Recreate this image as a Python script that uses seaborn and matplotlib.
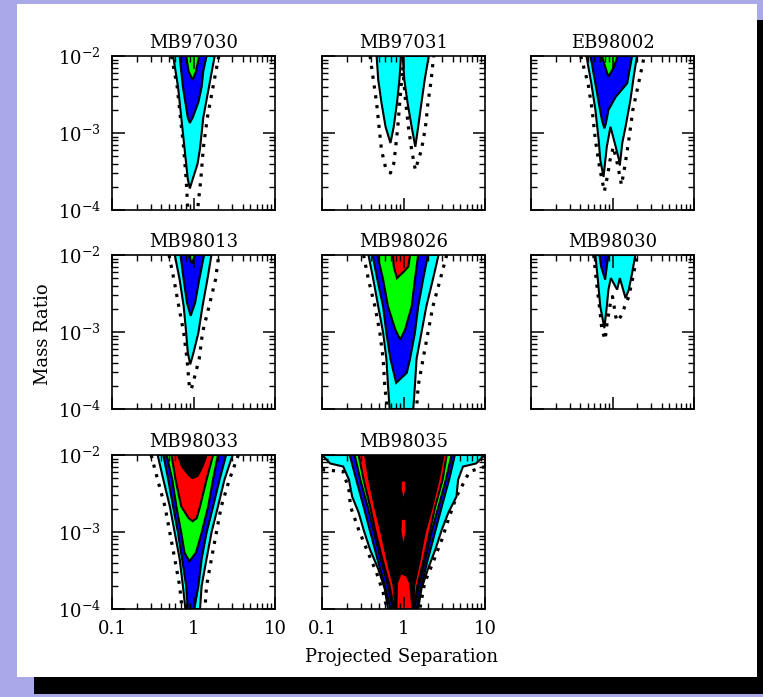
import numpy as np
import matplotlib
matplotlib.use("Agg")
import matplotlib.pyplot as plt
import seaborn as sns
from matplotlib.patches import Rectangle
from matplotlib.ticker import FixedLocator, FixedFormatter, LogLocator, NullFormatter

# ---------------------------------------------------------------- data
panel_names = ["MB97030", "MB97031", "EB98002", "MB98013",
               "MB98026", "MB98030", "MB98033", "MB98035"]
x_ticks = [0.1, 1, 10]
x_ticklabels = ["0.1", "1", "10"]
y_ticks = [1e-4, 1e-3, 1e-2]
y_ticklabels = [r"$10^{-4}$", r"$10^{-3}$", r"$10^{-2}$"]
x_label = "Projected Separation"
y_label = "Mass Ratio"
level_colors = {"cyan": "#00ffff", "blue": "#0000ff", "green": "#00ff00",
                "red": "#ff0000", "black": "#000000"}


def band(q, lo, hi):
    """closed outline from a left edge (lo) and right edge (hi) at mass ratios q"""
    return list(lo) + list(hi[::-1]), list(q) + list(q[::-1])


# contour outlines: log10(separation), log10(mass ratio)
# --- MB97030
MB97030_dotted = [
    ([-0.27, -0.20, -0.16, -0.12, -0.09, -0.07], [-2.0, -2.4, -2.8, -3.2, -3.6, -4.0]),
    ([0.31, 0.24, 0.17, 0.12, 0.09, 0.05], [-2.0, -2.4, -2.8, -3.2, -3.6, -4.0]),
]
MB97030_regions = [
    ("cyan", [-0.25, -0.19, -0.15, -0.11, -0.09, -0.07, -0.045, -0.01, 0.05, 0.08, 0.12, 0.19, 0.26],
             [-2.0, -2.4, -2.8, -3.2, -3.4, -3.6, -3.72, -3.6, -3.4, -3.2, -2.8, -2.4, -2.0]),
    ("blue", [-0.17, -0.15, -0.13, -0.10, -0.07, -0.045, -0.01, 0.06, 0.10, 0.12, 0.16],
             [-2.0, -2.2, -2.4, -2.6, -2.8, -2.87, -2.8, -2.6, -2.4, -2.2, -2.0]),
    ("green", [-0.09, -0.06, -0.01, 0.03, 0.07], [-2.0, -2.2, -2.31, -2.2, -2.0]),
]
# --- MB97031
MB97031_dotted = [
    ([-0.41, -0.37, -0.33, -0.30, -0.27, -0.22, -0.16, -0.12, -0.10, -0.07, -0.04, -0.01,
      0.02, 0.06, 0.10, 0.145, 0.22, 0.27, 0.30, 0.34, 0.37],
     [-2.0, -2.31, -2.61, -2.92, -3.22, -3.45, -3.52, -3.40, -3.22, -2.92, -2.53, -2.14,
      -2.53, -2.92, -3.22, -3.48, -3.22, -2.92, -2.61, -2.31, -2.0]),
]
MB97031_regions = [
    ("cyan", [-0.33, -0.31, -0.27, -0.22, -0.16, -0.12, -0.08, -0.05, -0.03],
             [-2.0, -2.31, -2.61, -2.92, -3.13, -2.92, -2.61, -2.31, -2.0]),
    ("cyan", [-0.01, 0.01, 0.05, 0.10, 0.145, 0.18, 0.22, 0.26, 0.31],
             [-2.0, -2.31, -2.61, -2.92, -3.18, -2.92, -2.61, -2.31, -2.0]),
]
# --- EB98002
EB98002_dotted = [
    ([-0.39, -0.30, -0.25, -0.21, -0.16, -0.10, -0.06, -0.03, 0.01, 0.06, 0.11, 0.15, 0.20, 0.25, 0.32, 0.39],
     [-2.0, -2.355, -2.70, -3.09, -3.44, -3.76, -3.55, -3.35, -3.18, -3.40, -3.675, -3.44, -3.09, -2.70, -2.355, -2.0]),
]
EB98002_regions = [
    ("cyan", [-0.32, -0.26, -0.21, -0.17, -0.15, -0.11, -0.07, -0.025, 0.04, 0.08, 0.09, 0.12, 0.16, 0.22, 0.26, 0.30],
             [-2.0, -2.355, -2.70, -3.09, -3.35, -3.57, -3.18, -2.92, -3.18, -3.35, -3.42, -3.13, -2.92, -2.57, -2.27, -2.0]),
    ("blue", [-0.27, -0.21, -0.16, -0.13, -0.10, -0.08, -0.05, 0.04, 0.18, 0.24],
             [-2.0, -2.355, -2.66, -2.83, -2.94, -2.87, -2.70, -2.53, -2.355, -2.0]),
    ("green", [-0.13, -0.09, -0.05, 0.02, 0.06], [-2.0, -2.14, -2.27, -2.14, -2.0]),
]
# --- MB98013
MB98013_dotted = [
    ([-0.30, -0.24, -0.18, -0.12, -0.08, -0.05, -0.03, -0.01, 0.07, 0.11, 0.19, 0.27, 0.31],
     [-2.0, -2.32, -2.67, -3.01, -3.35, -3.72, -3.75, -3.68, -3.35, -3.01, -2.67, -2.32, -2.0]),
]
MB98013_regions = [
    ("cyan", [-0.23, -0.17, -0.12, -0.09, -0.07, -0.04, 0.00, 0.06, 0.11, 0.17, 0.22],
             [-2.0, -2.32, -2.67, -3.01, -3.27, -3.42, -3.27, -3.01, -2.67, -2.32, -2.0]),
    ("blue", [-0.16, -0.12, -0.08, -0.035, 0.02, 0.07, 0.13],
             [-2.0, -2.32, -2.62, -2.79, -2.62, -2.32, -2.0]),
    ("green", [-0.06, -0.02, 0.02], [-2.0, -2.11, -2.0]),
]
# --- MB98026
q7 = [-2.0, -2.32, -2.67, -3.01, -3.35, -3.70, -4.0]
MB98026_dotted = [
    ([-0.49, -0.43, -0.35, -0.29, -0.25, -0.23, -0.20], q7),
    ([0.53, 0.45, 0.36, 0.30, 0.24, 0.18, 0.16], q7),
]
MB98026_regions = [
    ("cyan",) + band(q7, [-0.43, -0.37, -0.31, -0.25, -0.21, -0.19, -0.17],
                     [0.43, 0.36, 0.28, 0.22, 0.16, 0.14, 0.12]),
    ("blue", [-0.38, -0.32, -0.25, -0.21, -0.16, -0.09, 0.04, 0.08, 0.14, 0.18, 0.24, 0.30],
             [-2.0, -2.32, -2.67, -3.01, -3.35, -3.66, -3.53, -3.35, -3.01, -2.67, -2.32, -2.0]),
    ("green", [-0.32, -0.25, -0.19, -0.10, -0.04, 0.02, 0.10, 0.14, 0.18],
              [-2.0, -2.32, -2.67, -2.97, -3.10, -2.97, -2.67, -2.32, -2.0]),
    ("red", [-0.13, -0.12, -0.08, 0.0, 0.06, 0.08], [-2.0, -2.15, -2.30, -2.22, -2.15, -2.0]),
]
# --- MB98030
MB98030_dotted = [
    ([-0.23, -0.20, -0.16, -0.13, -0.09, -0.066, -0.025, 0.0, 0.04, 0.057, 0.10, 0.20, 0.26, 0.30],
     [-2.0, -2.32, -2.67, -2.97, -3.10, -2.88, -2.62, -2.54, -2.80, -2.86, -2.80, -2.54, -2.24, -2.0]),
]
MB98030_regions = [
    ("cyan", [-0.21, -0.18, -0.15, -0.10, -0.07, -0.05, -0.02, 0.057, 0.09, 0.16, 0.20, 0.24, 0.28],
             [-2.0, -2.32, -2.67, -2.95, -2.67, -2.45, -2.30, -2.45, -2.30, -2.56, -2.45, -2.24, -2.0]),
    ("blue", [-0.16, -0.14, -0.09, -0.07, -0.05], [-2.0, -2.15, -2.32, -2.15, -2.0]),
]
# --- MB98033
MB98033_dotted = [
    ([-0.52, -0.44, -0.35, -0.29, -0.23, -0.17, -0.14], q7),
    ([0.55, 0.44, 0.34, 0.28, 0.22, 0.16, 0.14], q7),
]
MB98033_regions = [
    ("cyan",) + band(q7, [-0.44, -0.37, -0.29, -0.23, -0.17, -0.13, -0.10],
                     [0.48, 0.38, 0.30, 0.22, 0.16, 0.10, 0.08]),
    ("blue",) + band(q7, [-0.37, -0.31, -0.25, -0.19, -0.14, -0.09, -0.07],
                     [0.40, 0.32, 0.24, 0.16, 0.10, 0.06, 0.01]),
    ("green", [-0.33, -0.26, -0.21, -0.15, -0.11, -0.05, 0.03, 0.10, 0.18, 0.24, 0.30],
              [-2.0, -2.32, -2.67, -3.01, -3.27, -3.38, -3.27, -3.01, -2.67, -2.32, -2.0]),
    ("red", [-0.27, -0.22, -0.15, -0.06, -0.01, 0.04, 0.08, 0.16, 0.24],
            [-2.0, -2.32, -2.67, -2.82, -2.86, -2.82, -2.67, -2.32, -2.0]),
    ("black", [-0.19, -0.14, -0.05, -0.01, 0.05, 0.11, 0.16],
              [-2.0, -2.15, -2.27, -2.30, -2.27, -2.15, -2.0]),
]
# --- MB98035
MB98035_dotted = [
    ([-1.0, -0.74, -0.67, -0.65, -0.55, -0.45, -0.33, -0.25, -0.20],
     [-2.19, -2.215, -2.45, -2.67, -2.97, -3.23, -3.53, -3.785, -4.0]),
    ([1.0, 0.81, 0.65, 0.55, 0.47, 0.36, 0.26, 0.20],
     [-2.15, -2.215, -2.54, -2.84, -3.10, -3.40, -3.66, -4.0]),
]
MB98035_regions = [
    ("cyan", [-1.0, -0.90, -0.74, -0.67, -0.63, -0.55, -0.49, -0.41, -0.31, -0.23, -0.19,
              0.18, 0.22, 0.30, 0.39, 0.47, 0.55, 0.65, 0.67, 0.73, 0.89, 1.0],
             [-2.0, -2.11, -2.15, -2.32, -2.54, -2.75, -2.97, -3.23, -3.48, -3.74, -4.0,
              -4.0, -3.74, -3.48, -3.23, -2.97, -2.75, -2.54, -2.32, -2.15, -2.11, -2.0]),
    ("blue",) + band(q7, [-0.66, -0.58, -0.49, -0.405, -0.32, -0.23, -0.16],
                     [0.63, 0.56, 0.47, 0.385, 0.30, 0.22, 0.16]),
    ("green",) + band(q7, [-0.60, -0.53, -0.44, -0.36, -0.28, -0.19, -0.13],
                      [0.59, 0.52, 0.43, 0.34, 0.27, 0.19, 0.13]),
    ("red",) + band(q7, [-0.55, -0.49, -0.41, -0.34, -0.26, -0.17, -0.115],
                    [0.53, 0.48, 0.39, 0.32, 0.25, 0.17, 0.13]),
    ("black",) + band(q7, [-0.47, -0.42, -0.35, -0.27, -0.20, -0.12, -0.10],
                      [0.49, 0.43, 0.35, 0.26, 0.20, 0.13, 0.12]),
    ("red", [-0.03, -0.07, -0.075, -0.08, 0.10, 0.085, 0.07, 0.03],
            [-3.55, -3.66, -3.80, -4.0, -4.0, -3.80, -3.66, -3.57]),
    ("red", [-0.02, -0.028, 0.0, 0.028, 0.02], [-2.34, -2.44, -2.56, -2.44, -2.34]),
    ("red", [-0.022, -0.03, 0.0, 0.03, 0.022], [-2.84, -2.99, -3.15, -2.99, -2.84]),
]

panel_dotted = [MB97030_dotted, MB97031_dotted, EB98002_dotted, MB98013_dotted,
                MB98026_dotted, MB98030_dotted, MB98033_dotted, MB98035_dotted]
panel_regions = [MB97030_regions, MB97031_regions, EB98002_regions, MB98013_regions,
                 MB98026_regions, MB98030_regions, MB98033_regions, MB98035_regions]

# ---------------------------------------------------------------- style
sns.set_theme(style="ticks")
plt.rcParams["font.family"] = ["DejaVu Serif"]
plt.rcParams["mathtext.fontset"] = "dejavuserif"
plt.rcParams["axes.linewidth"] = 1.2

W, H = 763, 697
fig = plt.figure(figsize=(W / 100, H / 100), dpi=100, facecolor="#a9a9e8")
# shadow + white card
fig.patches.append(Rectangle((34 / W, 3 / H), 740 / W, 674 / H, transform=fig.transFigure,
                             facecolor="black", edgecolor="none", zorder=-3))
fig.patches.append(Rectangle((17 / W, 20 / H), 740 / W, 673 / H, transform=fig.transFigure,
                             facecolor="white", edgecolor="none", zorder=-2))

col_left = [112, 322, 531]
row_top = [56, 255, 455]
aw, ah = 163, 154

for i, name in enumerate(panel_names):
    r, c = divmod(i, 3)
    ax = fig.add_axes([col_left[c] / W, (H - row_top[r] - ah) / H, aw / W, ah / H])
    ax.set_facecolor("white")
    ax.set_axisbelow(False)

    for ls_, lq_ in panel_dotted[i]:
        ax.plot(10 ** np.asarray(ls_), 10 ** np.asarray(lq_), color="black", lw=2.3,
                ls=(0, (1, 2.1)), dash_capstyle="butt", zorder=1)
    for level, ls_, lq_ in panel_regions[i]:
        xs, ys = 10 ** np.asarray(ls_), 10 ** np.asarray(lq_)
        island = max(lq_) < -2.0 and level == "red" and name == "MB98035"
        ax.fill(xs, ys, facecolor=level_colors[level], edgecolor="black",
                lw=0.4 if island else 1.5, zorder=2)

    ax.set_xscale("log")
    ax.set_yscale("log")
    ax.set_xlim(0.1, 10)
    ax.set_ylim(1e-4, 1e-2)
    ax.xaxis.set_major_locator(FixedLocator(x_ticks))
    ax.yaxis.set_major_locator(FixedLocator(y_ticks))
    ax.xaxis.set_minor_locator(LogLocator(base=10, subs=np.arange(2, 10)))
    ax.yaxis.set_minor_locator(LogLocator(base=10, subs=np.arange(2, 10)))
    ax.xaxis.set_minor_formatter(NullFormatter())
    ax.yaxis.set_minor_formatter(NullFormatter())
    if r == 2:
        ax.xaxis.set_major_formatter(FixedFormatter(x_ticklabels))
    else:
        ax.xaxis.set_major_formatter(NullFormatter())
    if c == 0:
        ax.yaxis.set_major_formatter(FixedFormatter(y_ticklabels))
    else:
        ax.yaxis.set_major_formatter(NullFormatter())
    ax.tick_params(which="both", direction="in", top=True, right=True,
                   color="black", labelsize=13, labelcolor="black")
    ax.tick_params(which="major", length=9, width=1.1, pad=8)
    ax.tick_params(which="minor", length=4.5, width=1.0)
    for sp in ax.spines.values():
        sp.set_color("black")
        sp.set_zorder(5)
    ax.set_title(name, fontsize=13, pad=6, color="black")
    ax.grid(False)

fig.text(43 / W, 1 - 334 / H, y_label, rotation=90, ha="center", va="center",
         fontsize=13, color="black")
fig.text(402 / W, 1 - 657 / H, x_label, ha="center", va="center",
         fontsize=13, color="black")

fig.savefig("out.png", dpi=100, facecolor=fig.get_facecolor())
